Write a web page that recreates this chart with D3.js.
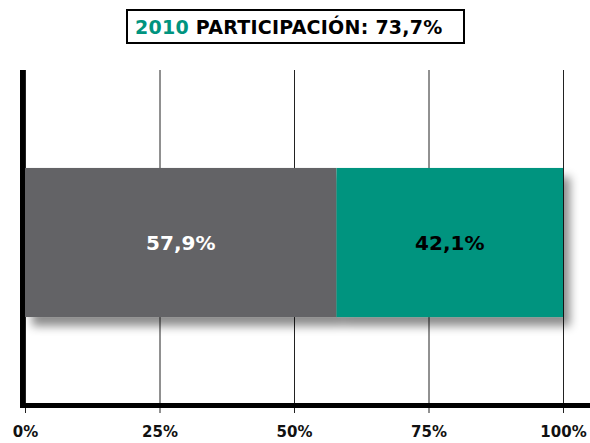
<!DOCTYPE html>
<html>
<head>
<meta charset="utf-8">
<script src="https://cdn.jsdelivr.net/npm/d3@7"></script>
<style>
  body { margin: 0; background: #fff; }
  text { font-family: "DejaVu Sans", sans-serif; font-weight: bold; }
</style>
</head>
<body>
<div id="chart"></div>
<script>
var year = "2010";
var participation = "73,7%";
var categories = ["grupo1", "grupo2"];
var values = [57.9, 42.1];
var colors = ["#636466", "#00947f"];
var labelColors = ["#ffffff", "#000000"];
var tickValues = [0, 25, 50, 75, 100];

var width = 590, height = 443;

var svg = d3.select("#chart")
  .append("svg")
  .attr("width", width)
  .attr("height", height);

var defs = svg.append("defs");
var f = defs.append("filter").attr("id", "shadow")
  .attr("x", "-10%").attr("y", "-20%").attr("width", "130%").attr("height", "160%");
f.append("feDropShadow")
  .attr("dx", 7).attr("dy", 9)
  .attr("stdDeviation", 5)
  .attr("flood-color", "#000")
  .attr("flood-opacity", 0.45);

var x = d3.scaleLinear()
  .domain([0, 100])
  .range([25, 563]);

var y = d3.scaleBand()
  .domain([year])
  .range([80, 405])
  .paddingInner(0)
  .paddingOuter(0.59);

// gridlines + tick labels
var axis = svg.append("g")
  .attr("transform", "translate(0,413)")
  .call(d3.axisBottom(x)
    .tickValues(tickValues)
    .tickSizeOuter(0)
    .tickSizeInner(-343)
    .tickPadding(13)
    .tickFormat(function (d) { return d + "%"; }));
axis.select(".domain").remove();
axis.selectAll(".tick line").attr("stroke", "#222").attr("stroke-width", 1);
axis.selectAll(".tick text")
  .style("font-size", "15px")
  .attr("fill", "#111");

// stacked bar
var stack = [];
var acc = 0;
values.forEach(function (v, i) {
  stack.push({ key: categories[i], x0: acc, x1: acc + v, v: v, i: i });
  acc += v;
});

var bars = svg.append("g").attr("filter", "url(#shadow)");
bars.selectAll("rect")
  .data(stack)
  .enter()
  .append("rect")
  .attr("x", function (d) { return x(d.x0); })
  .attr("width", function (d) { return x(d.x1) - x(d.x0); })
  .attr("y", y(year))
  .attr("height", y.bandwidth())
  .attr("fill", function (d) { return colors[d.i]; });

svg.append("g").selectAll("text")
  .data(stack)
  .enter()
  .append("text")
  .attr("x", function (d) { return (x(d.x0) + x(d.x1)) / 2; })
  .attr("y", y(year) + y.bandwidth() / 2)
  .attr("dy", "0.36em")
  .attr("text-anchor", "middle")
  .style("font-size", "20px")
  .attr("fill", function (d) { return labelColors[d.i]; })
  .text(function (d) { return d.v.toFixed(1).replace(".", ",") + "%"; });

// axis lines
svg.append("line")
  .attr("x1", 22.5).attr("x2", 22.5)
  .attr("y1", 70).attr("y2", 408)
  .attr("stroke", "#000").attr("stroke-width", 5);
svg.append("line")
  .attr("x1", 20).attr("x2", 590)
  .attr("y1", 405.5).attr("y2", 405.5)
  .attr("stroke", "#000").attr("stroke-width", 5);

// title box
svg.append("rect")
  .attr("x", 127).attr("y", 10)
  .attr("width", 337).attr("height", 33)
  .attr("fill", "#fff")
  .attr("stroke", "#000")
  .attr("stroke-width", 2);

var title = svg.append("text")
  .attr("x", 135)
  .attr("y", 34)
  .style("font-size", "19px")
  .style("letter-spacing", "0.25px");
title.append("tspan").attr("fill", colors[1]).text(year);
title.append("tspan").attr("fill", "#000").text(" PARTICIPACIÓN: " + participation);
</script>
</body>
</html>
